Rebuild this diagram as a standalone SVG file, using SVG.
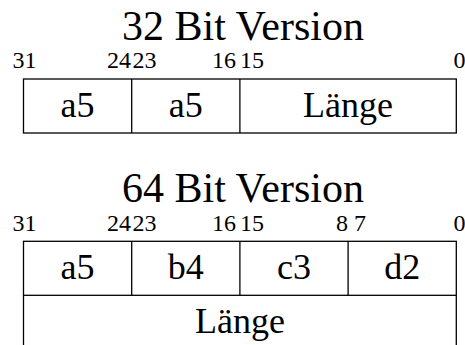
<svg xmlns="http://www.w3.org/2000/svg" width="465" height="345" viewBox="0 0 465 345" font-family="Liberation Serif, serif">
  <style>
    .hd { font-family: "Liberation Serif", serif; font-size: 42px; text-anchor: middle; fill: #000; }
    .nr { font-family: "Liberation Serif", serif; font-size: 24px; fill: #000; }
    .rt { text-anchor: end; }
    .fl { font-family: "Liberation Serif", serif; font-size: 36px; text-anchor: middle; fill: #000; }
    .ln { fill: none; stroke: #000; stroke-width: 1.3; }
  </style>
  <rect width="465" height="345" fill="#fff"/>

  <!-- 32-bit layout -->
  <g id="layout32">
    <text class="hd" font-family="Liberation Serif" x="243" y="40">32 Bit Version</text>
    <g id="bits32">
      <text class="nr" font-family="Liberation Serif" x="12.5" y="68">31</text>
      <text class="nr rt" font-family="Liberation Serif" x="131" y="68">24</text>
      <text class="nr" font-family="Liberation Serif" x="132.5" y="68">23</text>
      <text class="nr rt" font-family="Liberation Serif" x="236" y="68">16</text>
      <text class="nr" font-family="Liberation Serif" x="240" y="68">15</text>
      <text class="nr rt" font-family="Liberation Serif" x="465.5" y="68">0</text>
    </g>
    <g id="r32">
      <rect class="ln" x="23.5" y="79" width="432.8" height="54"/>
      <line class="ln" x1="131.7" y1="79" x2="131.7" y2="133"/>
      <line class="ln" x1="239.9" y1="79" x2="239.9" y2="133"/>
      <text class="fl" font-family="Liberation Serif" x="77.6" y="117">a5</text>
      <text class="fl" font-family="Liberation Serif" x="185.8" y="117">a5</text>
      <text class="fl" font-family="Liberation Serif" x="348.1" y="117">Länge</text>
    </g>
  </g>

  <!-- 64-bit layout -->
  <g id="layout64">
    <text class="hd" font-family="Liberation Serif" x="243" y="202">64 Bit Version</text>
    <g id="bits64">
      <text class="nr" font-family="Liberation Serif" x="12.5" y="231">31</text>
      <text class="nr rt" font-family="Liberation Serif" x="131" y="231">24</text>
      <text class="nr" font-family="Liberation Serif" x="132.5" y="231">23</text>
      <text class="nr rt" font-family="Liberation Serif" x="236" y="231">16</text>
      <text class="nr" font-family="Liberation Serif" x="240" y="231">15</text>
      <text class="nr rt" font-family="Liberation Serif" x="348" y="231">8</text>
      <text class="nr" font-family="Liberation Serif" x="354" y="231">7</text>
      <text class="nr rt" font-family="Liberation Serif" x="465.5" y="231">0</text>
    </g>
    <g id="r64a">
      <rect class="ln" x="23.5" y="241.3" width="432.8" height="54"/>
      <line class="ln" x1="131.7" y1="241.3" x2="131.7" y2="295.3"/>
      <line class="ln" x1="239.9" y1="241.3" x2="239.9" y2="295.3"/>
      <line class="ln" x1="348.1" y1="241.3" x2="348.1" y2="295.3"/>
      <text class="fl" font-family="Liberation Serif" x="77.6" y="279">a5</text>
      <text class="fl" font-family="Liberation Serif" x="185.8" y="279">b4</text>
      <text class="fl" font-family="Liberation Serif" x="294" y="279">c3</text>
      <text class="fl" font-family="Liberation Serif" x="402.2" y="279">d2</text>
    </g>
    <g id="r64b">
      <line class="ln" x1="23.5" y1="295.3" x2="23.5" y2="346"/>
      <line class="ln" x1="456.3" y1="295.3" x2="456.3" y2="346"/>
      <text class="fl" font-family="Liberation Serif" x="239.9" y="333">Länge</text>
    </g>
  </g>
</svg>
